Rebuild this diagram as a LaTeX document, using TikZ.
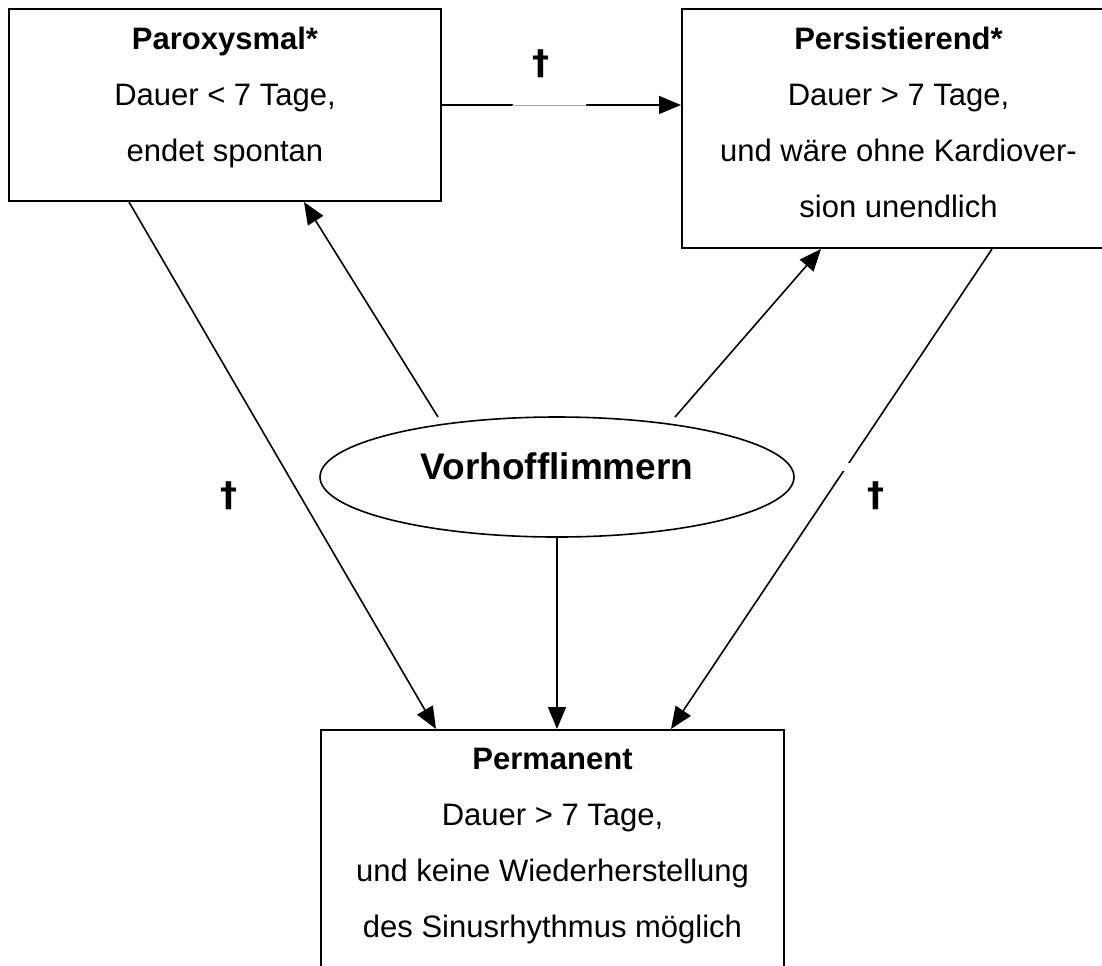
\documentclass[tikz,border=0pt]{standalone}
\usepackage{fontspec}
\setmainfont{Liberation Sans}
\newfontfamily\kreuzfont{DejaVu Sans}
\usetikzlibrary{arrows.meta,shapes.geometric}
\tikzset{
  kasten/.style={draw, line width=1pt, rectangle, inner sep=0pt},
  kastentext/.style={anchor=north, inner sep=0pt, align=center, font=\fontsize{15.5}{28}\selectfont},
  pfeil/.style={-{Triangle[length=11pt,width=9pt]}, line width=0.8pt},
  kreuz/.style={inner sep=0pt, font=\kreuzfont\bfseries\fontsize{17}{20}\selectfont},
  luecke/.style={fill=white, inner sep=0pt, minimum height=2pt}
}
\begin{document}
\begin{tikzpicture}[x=0.5pt,y=-0.5pt]
\useasboundingbox (0,0) rectangle (1102,965);
% Kaesten
\node[kasten, minimum width=216pt, minimum height=96pt] (parox) at (225,105) {};
\node[kastentext] (paroxtext) at ([yshift=-9.5pt]parox.north)
  {\textbf{Paroxysmal*}\\Dauer < 7 Tage,\\endet spontan};
\node[kasten, minimum width=216.5pt, minimum height=119.5pt] (persist) at (898.5,128.5) {};
\node[kastentext] (persisttext) at ([yshift=-9.5pt]persist.north)
  {\textbf{Persistierend*}\\Dauer > 7 Tage,\\und wäre ohne Kardiover-\\sion unendlich};
\node[kasten, minimum width=231.5pt, minimum height=135pt] (perm) at (552.5,865) {};
\node[kastentext] (permtext) at ([yshift=-9.5pt]perm.north)
  {\textbf{Permanent}\\Dauer > 7 Tage,\\und keine Wiederherstellung\\des Sinusrhythmus möglich};
\node[draw, ellipse, line width=0.8pt, inner sep=0pt, minimum width=237pt, minimum height=60pt,
  text depth=11pt, font=\bfseries\fontsize{18.5}{22}\selectfont] (vhf) at (557,477) {Vorhofflimmern};

% Pfeile
\draw[pfeil] (parox.east) -- node[pos=0.45, luecke, minimum width=36.5pt] (lueckeoben) {} (parox.east -| persist.west);
\draw[gray!70, line width=0.4pt] (lueckeoben.west) -- (lueckeoben.east);
\draw[pfeil] ([shift={(-119,-60)}]vhf.center) -- ([xshift=148pt]parox.south west);
\draw[pfeil] ([shift={(118,-60)}]vhf.center) -- ([xshift=70pt]persist.south west);
\draw[pfeil] ([xshift=60.5pt]parox.south west) -- ([xshift=58pt]perm.north west);
\draw[pfeil] (vhf.south) -- (vhf.south |- perm.north);
\draw[pfeil] ([xshift=155.5pt]persist.south west) -- node[pos=0.454, luecke, minimum width=5pt, minimum height=4pt] (lueckerechts) {} ([xshift=175.5pt]perm.north west);

% Kreuze
\foreach \x/\y/\n in {541/64/oben, 229/496/links, 876/496/rechts}
  \node[kreuz] (kreuz\n) at (\x,\y) {†};
\end{tikzpicture}
\end{document}
